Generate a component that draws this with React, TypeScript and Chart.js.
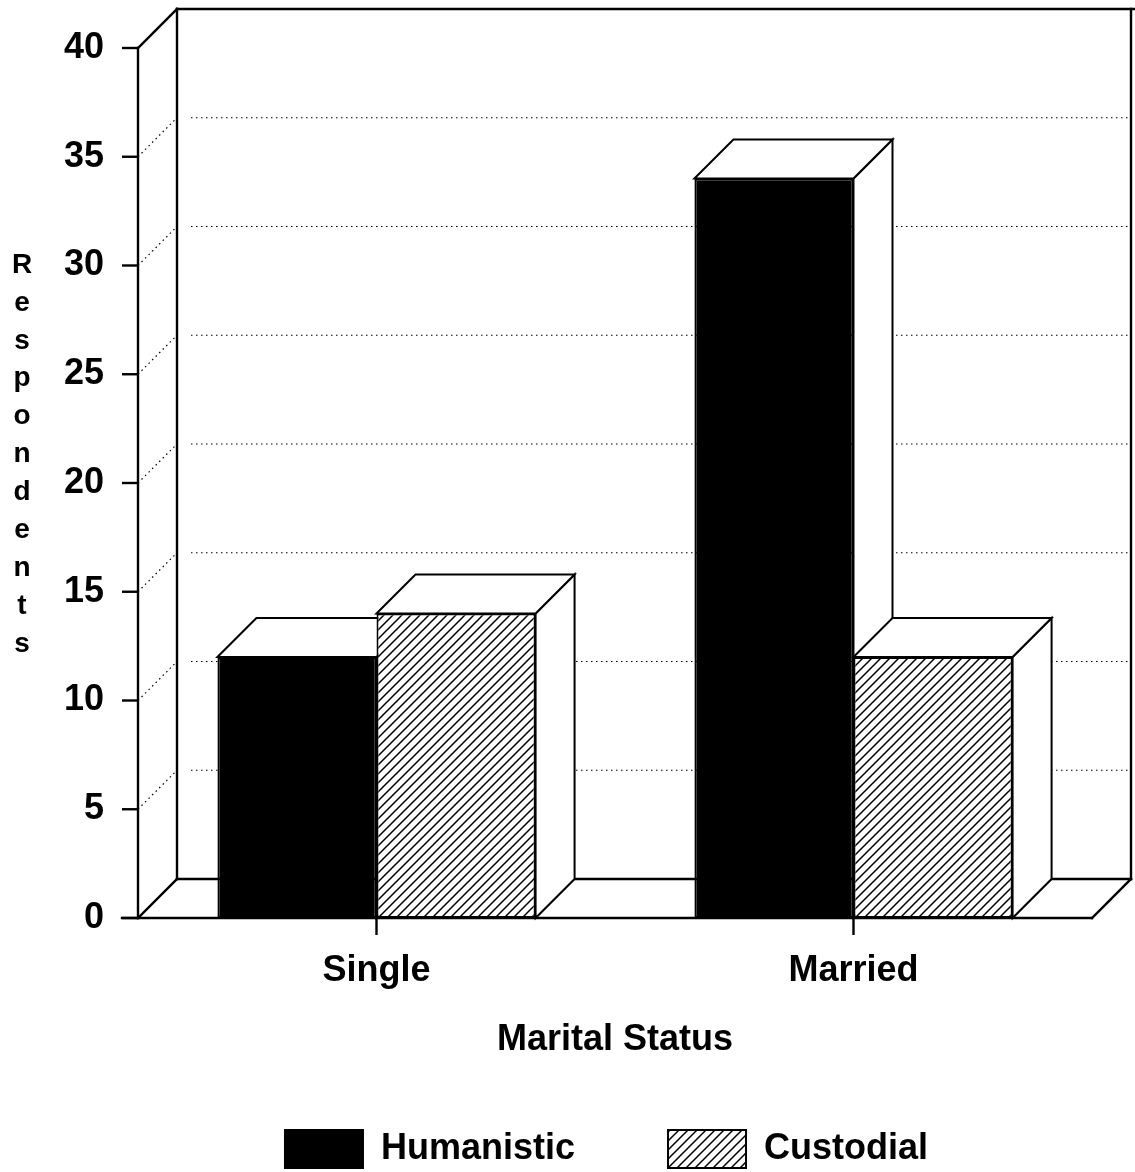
import { useEffect, useRef } from 'react';
import { Chart, registerables } from 'chart.js';

Chart.register(...registerables);

// ---- data ----
const categories = ['Single', 'Married'];
const seriesNames = ['Humanistic', 'Custodial'];
const humanisticValues = [12, 34];
const custodialValues = [14, 12];
const yMin = 0;
const yMax = 40;
const yStep = 5;
const xAxisTitle = 'Marital Status';
const yAxisTitle = 'Respondents';

// ---- styling ----
const FONT = "'Liberation Sans', Arial, Helvetica, sans-serif";
const DX = 39;
const DY = 39;

function makeHatch(): CanvasPattern | string {
  const s = 9;
  const c = document.createElement('canvas');
  c.width = s;
  c.height = s;
  const g = c.getContext('2d');
  if (!g) return '#fff';
  g.fillStyle = '#fff';
  g.fillRect(0, 0, s, s);
  g.strokeStyle = '#000';
  g.lineWidth = 1.5;
  g.beginPath();
  g.moveTo(-1, s + 1);
  g.lineTo(s + 1, -1);
  g.moveTo(-1, 1);
  g.lineTo(1, -1);
  g.moveTo(s - 1, s + 1);
  g.lineTo(s + 1, s - 1);
  g.stroke();
  const p = g.createPattern(c, 'repeat');
  return p || '#fff';
}

const threeD = {
  id: 'threeD',
  afterLayout(chart: any) {
    const lg = chart.legend;
    if (lg) {
      lg.left = 121;
      lg.width = lg.right - lg.left;
    }
  },
  beforeDatasetsDraw(chart: any) {
    const { ctx, chartArea, scales } = chart;
    const { left, right, top, bottom } = chartArea;
    const x = scales.x;
    const y = scales.y;
    const line = (x1: number, y1: number, x2: number, y2: number) => {
      ctx.beginPath();
      ctx.moveTo(x1, y1);
      ctx.lineTo(x2, y2);
      ctx.stroke();
    };
    ctx.save();
    ctx.strokeStyle = '#000';
    // dotted grid on back wall and left wall
    ctx.lineWidth = 1.2;
    ctx.setLineDash([1.5, 3.5]);
    y.ticks.forEach((t: any) => {
      if (t.value === yMin || t.value === yMax) return;
      const py = y.getPixelForValue(t.value);
      line(left + DX + 14, py - DY, right + DX, py - DY);
      line(left, py, left + DX, py - DY);
    });
    ctx.setLineDash([]);
    ctx.lineWidth = 2.4;
    ctx.lineCap = 'square';
    // back wall
    line(left + DX, bottom - DY, left + DX, top - DY);
    line(left + DX, top - DY, right + DX + 4, top - DY);
    line(right + DX, top - DY, right + DX, bottom - DY);
    // left wall
    line(left, bottom, left, top);
    line(left, top, left + DX, top - DY);
    // floor
    line(left - 16, bottom, right, bottom);
    line(right, bottom, right + DX, bottom - DY);
    line(left + DX, bottom - DY, right + DX, bottom - DY);
    line(left, bottom, left + DX, bottom - DY);
    // y tick marks
    ctx.lineCap = 'butt';
    y.ticks.forEach((t: any) => {
      const py = y.getPixelForValue(t.value);
      line(left - 16, py, left, py);
    });
    // x tick marks
    categories.forEach((_, i) => {
      const px = x.getPixelForValue(i);
      line(px, bottom, px, bottom + 17);
    });
    // 3D faces of bars (sides and tops)
    ctx.lineWidth = 2;
    ctx.lineJoin = 'miter';
    categories.forEach((_, i) => {
      chart.data.datasets.forEach((_d: any, di: number) => {
        const el = chart.getDatasetMeta(di).data[i];
        if (!el) return;
        const p = el.getProps(['x', 'y', 'base', 'width'], true);
        const l = p.x - p.width / 2;
        const r = p.x + p.width / 2;
        const ty = p.y;
        const by = p.base;
        ctx.fillStyle = '#fff';
        // side
        ctx.beginPath();
        ctx.moveTo(r, ty);
        ctx.lineTo(r + DX, ty - DY);
        ctx.lineTo(r + DX, by - DY);
        ctx.lineTo(r, by);
        ctx.closePath();
        ctx.fill();
        ctx.stroke();
        // top
        ctx.beginPath();
        ctx.moveTo(l, ty);
        ctx.lineTo(l + DX, ty - DY);
        ctx.lineTo(r + DX, ty - DY);
        ctx.lineTo(r, ty);
        ctx.closePath();
        ctx.fill();
        ctx.stroke();
      });
    });
    ctx.restore();
  },
  afterDraw(chart: any) {
    const { ctx } = chart;
    ctx.save();
    ctx.fillStyle = '#000';
    ctx.font = `bold 28px ${FONT}`;
    ctx.textAlign = 'center';
    ctx.textBaseline = 'middle';
    const letters = yAxisTitle.split('');
    letters.forEach((ch, i) => {
      ctx.fillText(ch, 22, 265 + i * 37.9);
    });
    ctx.restore();
  },
};

export default function App() {
  const ref = useRef<HTMLCanvasElement | null>(null);
  useEffect(() => {
    if (!ref.current) return;
    const hatch = makeHatch();
    const chart = new Chart(ref.current, {
      type: 'bar',
      data: {
        labels: categories,
        datasets: [
          {
            label: seriesNames[0],
            data: humanisticValues,
            backgroundColor: '#000',
            borderColor: '#000',
            borderWidth: 2,
            borderSkipped: false,
          },
          {
            label: seriesNames[1],
            data: custodialValues,
            backgroundColor: hatch as any,
            borderColor: '#000',
            borderWidth: 2,
            borderSkipped: false,
          },
        ],
      },
      options: {
        responsive: false,
        animation: false,
        devicePixelRatio: 1,
        layout: { padding: { left: 0, right: 43, top: 48, bottom: -6 } },
        datasets: { bar: { categoryPercentage: 0.667, barPercentage: 1 } },
        plugins: {
          legend: {
            position: 'bottom',
            labels: {
              color: '#000',
              font: { family: FONT, size: 36, weight: 'bold' },
              boxWidth: 78,
              boxHeight: 38,
              padding: 93,
            },
          },
          tooltip: { enabled: false },
        },
        scales: {
          x: {
            offset: true,
            grid: { display: false, drawTicks: false },
            border: { display: false },
            ticks: {
              color: '#000',
              padding: 31,
              font: { family: FONT, size: 36, weight: 'bold' },
            },
            title: {
              display: true,
              text: xAxisTitle,
              color: '#000',
              font: { family: FONT, size: 36, weight: 'bold' },
              padding: { top: 0, bottom: -24.6 },
            },
            afterFit: (s: any) => {
              s.height = 119;
            },
          },
          y: {
            min: yMin,
            max: yMax,
            grid: { display: false, drawTicks: true, tickLength: 34 },
            border: { display: false },
            ticks: {
              stepSize: yStep,
              color: '#000',
              padding: 0,
              font: { family: FONT, size: 36, weight: 'bold' },
            },
            title: { display: false, text: yAxisTitle },
            afterFit: (s: any) => {
              s.width = 138;
            },
          },
        },
      },
      plugins: [threeD],
    });
    return () => chart.destroy();
  }, []);
  return (
    <div style={{ position: 'fixed', left: 0, top: 0, width: 1135, height: 1172, background: '#fff' }}>
      <canvas ref={ref} width={1135} height={1172} style={{ display: 'block' }} />
    </div>
  );
}
